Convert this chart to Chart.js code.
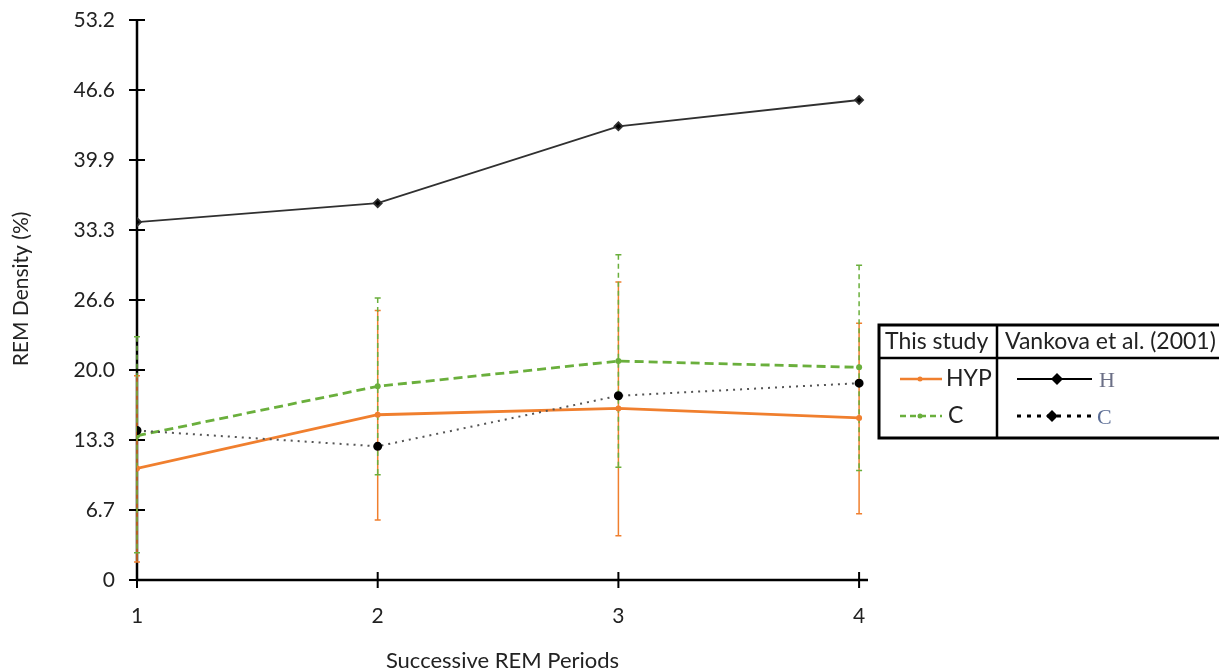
<!DOCTYPE html>
<html>
<head>
<meta charset="utf-8">
<title>REM Density across Successive REM Periods</title>
<script src="https://cdn.jsdelivr.net/npm/chart.js@4/dist/chart.umd.min.js"></script>
<style>
  html, body { margin: 0; padding: 0; background: #ffffff; }
  #wrap { width: 1219px; height: 672px; position: relative; }
</style>
</head>
<body>
<div id="wrap"><canvas id="chart" width="1219" height="672"></canvas></div>
<script>
// REM period index
const periods = [1, 2, 3, 4];

// This study: hypersomnia group (mean and error-bar ends)
const hypMean  = [10.6, 15.7, 16.3, 15.4];
const hypUpper = [19.4, 25.6, 28.3, 24.4];
const hypLower = [1.7, 5.7, 4.2, 6.3];

// This study: control group (mean and error-bar ends)
const ctlMean  = [13.7, 18.4, 20.8, 20.2];
const ctlUpper = [23.1, 26.8, 30.9, 29.9];
const ctlLower = [2.6, 10.0, 10.7, 10.4];

// Vankova et al. (2001)
const vankovaH = [34.0, 35.8, 43.1, 45.6];
const vankovaC = [14.2, 12.7, 17.5, 18.7];

// Axis tick labels
const xTickLabels = ['1', '2', '3', '4'];
const yTickLabels = ['0', '6.7', '13.3', '20.0', '26.6', '33.3', '39.9', '46.6', '53.2'];
const yMax = 53.2;

const FONT = 'Lato, "Open Sans", "Liberation Sans", sans-serif';
const ORANGE = '#f07f2e';
const GREEN = '#6aaf3c';
const DARK = '#303030';
const TEXT = '#222';

const toXY = (vals) => vals.map((v, i) => ({ x: periods[i], y: v }));

// Error bars for the study groups
const errorBars = {
  id: 'errorBars',
  beforeDatasetsDraw(chart) {
    const { ctx, scales: { x, y } } = chart;
    const groups = [
      { upper: hypUpper, lower: hypLower, color: ORANGE, dash: [] },
      { upper: ctlUpper, lower: ctlLower, color: GREEN, dash: [5, 4] }
    ];
    ctx.save();
    groups.forEach(g => {
      periods.forEach((p, i) => {
        const px = x.getPixelForValue(p);
        const top = y.getPixelForValue(g.upper[i]);
        const bot = y.getPixelForValue(g.lower[i]);
        ctx.strokeStyle = g.color;
        ctx.lineWidth = 1.5;
        ctx.setLineDash(g.dash);
        ctx.beginPath();
        ctx.moveTo(px, top);
        ctx.lineTo(px, bot);
        ctx.stroke();
        ctx.setLineDash([]);
        ctx.beginPath();
        ctx.moveTo(px - 3, top); ctx.lineTo(px + 3, top);
        ctx.moveTo(px - 3, bot); ctx.lineTo(px + 3, bot);
        ctx.stroke();
      });
    });
    ctx.restore();
  }
};

// Axis lines with ticks crossing each axis, plus the axis titles
const crossAxes = {
  id: 'crossAxes',
  beforeDatasetsDraw(chart) {
    const { ctx, chartArea: a, scales: { x, y } } = chart;
    ctx.save();
    ctx.strokeStyle = '#000';
    ctx.lineWidth = 2.5;
    const x0 = x.getPixelForValue(1);
    const y0 = y.getPixelForValue(0);
    ctx.beginPath();
    ctx.moveTo(x0, y.getPixelForValue(yMax) - 1);
    ctx.lineTo(x0, y0 + 1);
    ctx.moveTo(x0 - 1, y0);
    ctx.lineTo(a.right, y0);
    ctx.stroke();
    ctx.lineWidth = 2;
    ctx.beginPath();
    y.ticks.forEach(t => {
      const py = y.getPixelForValue(t.value);
      ctx.moveTo(x0 - 8, py); ctx.lineTo(x0 + 8, py);
    });
    x.ticks.forEach(t => {
      const px = x.getPixelForValue(t.value);
      ctx.moveTo(px, y0 - 8); ctx.lineTo(px, y0 + 8);
    });
    ctx.stroke();

    ctx.fillStyle = TEXT;
    ctx.textAlign = 'center';
    ctx.textBaseline = 'middle';
    ctx.font = '22px ' + FONT;
    ctx.fillText('Successive REM Periods', (a.left + a.right) / 2, 661);

    ctx.translate(21, 289);
    ctx.rotate(-Math.PI / 2);
    ctx.font = '21px ' + FONT;
    ctx.fillText('REM Density (%)', 0, 0);
    ctx.restore();
  }
};

// Two-column legend table
const tableLegend = {
  id: 'tableLegend',
  afterDraw(chart) {
    const { ctx } = chart;
    const L = 879, T = 325, R = 1222, B = 438, midX = 997, headY = 358;
    ctx.save();
    ctx.fillStyle = '#fff';
    ctx.fillRect(L, T, R - L, B - T);
    ctx.strokeStyle = '#000';
    ctx.lineWidth = 3;
    ctx.strokeRect(L, T, R - L, B - T);
    ctx.lineWidth = 2.5;
    ctx.beginPath();
    ctx.moveTo(L, headY); ctx.lineTo(R, headY);
    ctx.moveTo(midX, T); ctx.lineTo(midX, B);
    ctx.stroke();

    ctx.fillStyle = TEXT;
    ctx.font = '23px ' + FONT;
    ctx.textBaseline = 'middle';
    ctx.textAlign = 'left';
    ctx.fillText('This study', 885, 342);
    ctx.fillText('Vankova et al. (2001)', 1005, 342);

    const rowA = 379, rowB = 416;
    // HYP
    ctx.strokeStyle = ORANGE; ctx.lineWidth = 2.5;
    ctx.beginPath(); ctx.moveTo(900, rowA); ctx.lineTo(942, rowA); ctx.stroke();
    ctx.fillStyle = ORANGE;
    ctx.beginPath(); ctx.arc(920, rowA, 2.5, 0, Math.PI * 2); ctx.fill();
    ctx.fillStyle = TEXT;
    ctx.fillText('HYP', 946, rowA);
    // C
    ctx.strokeStyle = GREEN; ctx.setLineDash([6, 4]);
    ctx.beginPath(); ctx.moveTo(900, rowB); ctx.lineTo(942, rowB); ctx.stroke();
    ctx.setLineDash([]);
    ctx.fillStyle = GREEN;
    ctx.beginPath(); ctx.arc(920, rowB, 2.5, 0, Math.PI * 2); ctx.fill();
    ctx.fillStyle = TEXT;
    ctx.fillText('C', 948, rowB);

    const diamond = (cx, cy, r) => {
      ctx.beginPath();
      ctx.moveTo(cx, cy - r); ctx.lineTo(cx + r, cy);
      ctx.lineTo(cx, cy + r); ctx.lineTo(cx - r, cy);
      ctx.closePath(); ctx.fill();
    };
    // Vankova H
    ctx.strokeStyle = '#000'; ctx.lineWidth = 2;
    ctx.beginPath(); ctx.moveTo(1017, rowA); ctx.lineTo(1092, rowA); ctx.stroke();
    ctx.fillStyle = '#000'; diamond(1057, rowA, 6);
    ctx.font = '22px "Liberation Serif", "DejaVu Serif", serif';
    ctx.fillStyle = '#6b6f86';
    ctx.fillText('H', 1099, rowA + 2);
    // Vankova C
    ctx.strokeStyle = '#000'; ctx.lineWidth = 3; ctx.setLineDash([4, 6]);
    ctx.beginPath(); ctx.moveTo(1017, rowB); ctx.lineTo(1094, rowB); ctx.stroke();
    ctx.setLineDash([]);
    ctx.fillStyle = '#000'; diamond(1052, rowB, 6);
    ctx.fillStyle = '#5a6c94';
    ctx.fillText('C', 1097, rowB + 2);
    ctx.restore();
  }
};

new Chart(document.getElementById('chart'), {
  type: 'line',
  data: {
    datasets: [
      {
        label: 'Vankova H',
        data: toXY(vankovaH),
        borderColor: DARK, backgroundColor: '#000',
        borderWidth: 1.8, pointRadius: 4, pointStyle: 'rectRot',
        tension: 0
      },
      {
        label: 'Vankova C',
        data: toXY(vankovaC),
        borderColor: '#555', backgroundColor: '#000',
        borderWidth: 2, borderDash: [2, 5], pointRadius: 3.5, pointStyle: 'circle',
        pointBorderColor: '#000', tension: 0
      },
      {
        label: 'HYP',
        data: toXY(hypMean),
        borderColor: ORANGE, backgroundColor: ORANGE,
        borderWidth: 2.8, pointRadius: 3, pointBorderWidth: 0,
        tension: 0
      },
      {
        label: 'C',
        data: toXY(ctlMean),
        borderColor: GREEN, backgroundColor: GREEN,
        borderWidth: 2.8, borderDash: [9, 5], pointRadius: 3, pointBorderWidth: 0,
        tension: 0
      }
    ]
  },
  options: {
    responsive: false,
    animation: false,
    layout: { padding: { top: 20, right: 351, bottom: 0, left: 0 } },
    plugins: {
      legend: { display: false },
      tooltip: { enabled: false }
    },
    scales: {
      x: {
        type: 'linear',
        min: 1,
        max: 4.037,
        grid: { display: false, drawTicks: false },
        border: { display: false },
        afterBuildTicks: (s) => { s.ticks = periods.map(v => ({ value: v })); },
        afterFit: (s) => { s.height = 92; s.paddingLeft = 0; s.paddingRight = 0; },
        ticks: {
          padding: 24,
          color: TEXT,
          font: { family: FONT, size: 21 },
          callback: (v, i) => xTickLabels[i]
        }
      },
      y: {
        type: 'linear',
        min: 0,
        max: yMax,
        grid: { display: false, drawTicks: false },
        border: { display: false },
        afterBuildTicks: (s) => { s.ticks = yTickLabels.map((_, i) => ({ value: i * yMax / 8 })); },
        afterFit: (s) => { s.width = 137; s.paddingTop = 0; s.paddingBottom = 0; },
        ticks: {
          padding: 22,
          color: TEXT,
          font: { family: FONT, size: 21 },
          callback: (v, i) => yTickLabels[i]
        }
      }
    }
  },
  plugins: [crossAxes, errorBars, tableLegend]
});
</script>
</body>
</html>
